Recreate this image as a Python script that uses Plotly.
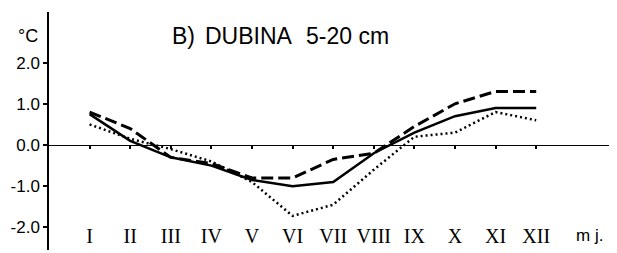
import plotly.graph_objects as go

months = ["I", "II", "III", "IV", "V", "VI", "VII", "VIII", "IX", "X", "XI", "XII"]
month_pos = list(range(1, 13))
solid_vals = [0.75, 0.1, -0.3, -0.5, -0.85, -1.0, -0.9, -0.2, 0.3, 0.7, 0.9, 0.9]
dashed_vals = [0.8, 0.4, -0.3, -0.45, -0.8, -0.8, -0.35, -0.2, 0.45, 1.0, 1.3, 1.3]
dotted_vals = [0.5, 0.15, -0.1, -0.4, -0.9, -1.72, -1.45, -0.6, 0.2, 0.3, 0.8, 0.6]
y_tickvals = [2.0, 1.0, 0.0, -1.0, -2.0]
y_ticktext = ["2.0", "1.0", "0.0", "-1.0", "-2.0"]

YMIN, YMAX = -2.549, 3.228
XMIN, XMAX = 0.0, 13.99

fig = go.Figure()
fig.add_trace(go.Scatter(x=month_pos, y=dotted_vals, mode="lines",
                         line=dict(color="black", width=2.5, dash="2px,3px")))
fig.add_trace(go.Scatter(x=month_pos, y=dashed_vals, mode="lines",
                         line=dict(color="black", width=3, dash="12px,5px")))
fig.add_trace(go.Scatter(x=month_pos, y=solid_vals, mode="lines",
                         line=dict(color="black", width=2.5)))
# invisible trace on the tick axis (zero line with month ticks)
fig.add_trace(go.Scatter(x=[XMIN, XMAX], y=[0, 0], xaxis="x2", mode="lines",
                         line=dict(color="rgba(0,0,0,0)", width=0), hoverinfo="skip"))

zero_frac = (0 - YMIN) / (YMAX - YMIN)
label_frac = 28 / 238
title_y = (2.65 - YMIN) / (YMAX - YMIN)

# the page body has an 8px default margin, so the figure is shifted by 8px
fig.update_layout(
    width=617, height=253,
    margin=dict(l=41, r=8, t=4, b=11, autoexpand=False),
    paper_bgcolor="white", plot_bgcolor="white",
    showlegend=False,
    font=dict(family="Liberation Sans", color="black"),
    xaxis=dict(range=[XMIN, XMAX], tickvals=month_pos, ticktext=months,
               showline=False, showgrid=False, zeroline=False, ticks="",
               anchor="free", position=label_frac, automargin=False,
               tickfont=dict(family="Liberation Serif", size=20, color="black")),
    xaxis2=dict(range=[XMIN, XMAX], overlaying="x", anchor="free", position=zero_frac,
                tickvals=month_pos, showticklabels=False, ticks="outside", ticklen=3,
                tickcolor="black", tickwidth=1.5, automargin=False,
                showline=True, linecolor="black", linewidth=1.2,
                showgrid=False, zeroline=False),
    yaxis=dict(range=[YMIN, YMAX], tickvals=y_tickvals, ticktext=y_ticktext,
               showline=True, linecolor="black", linewidth=1.5, automargin=False,
               ticks="outside", ticklen=4, tickcolor="black", tickwidth=1.5,
               showgrid=False, zeroline=False, ticklabelstandoff=0,
               tickfont=dict(family="Liberation Sans", size=17, color="black")),
)

fig.add_annotation(text="°C", xref="paper", yref="paper", x=-0.016, y=title_y,
                   xanchor="right", yanchor="middle", showarrow=False,
                   font=dict(family="Liberation Sans", size=18, color="black"))
title_parts = ["B)", "DUBINA", "5-20 cm"]
title_x = [170, 203, 304]
for txt, px in zip(title_parts, title_x):
    fig.add_annotation(text=txt, xref="paper", yref="paper",
                       x=(px - 49) / 568, y=title_y,
                       xanchor="left", yanchor="middle", showarrow=False,
                       font=dict(family="Liberation Sans", size=23, color="black"))
fig.add_annotation(text="m j.", xref="x", yref="paper", x=13.32, y=label_frac,
                   xanchor="center", yanchor="top", yshift=-2, showarrow=False,
                   font=dict(family="Liberation Sans", size=17, color="black"))

fig.write_html("out.html")
